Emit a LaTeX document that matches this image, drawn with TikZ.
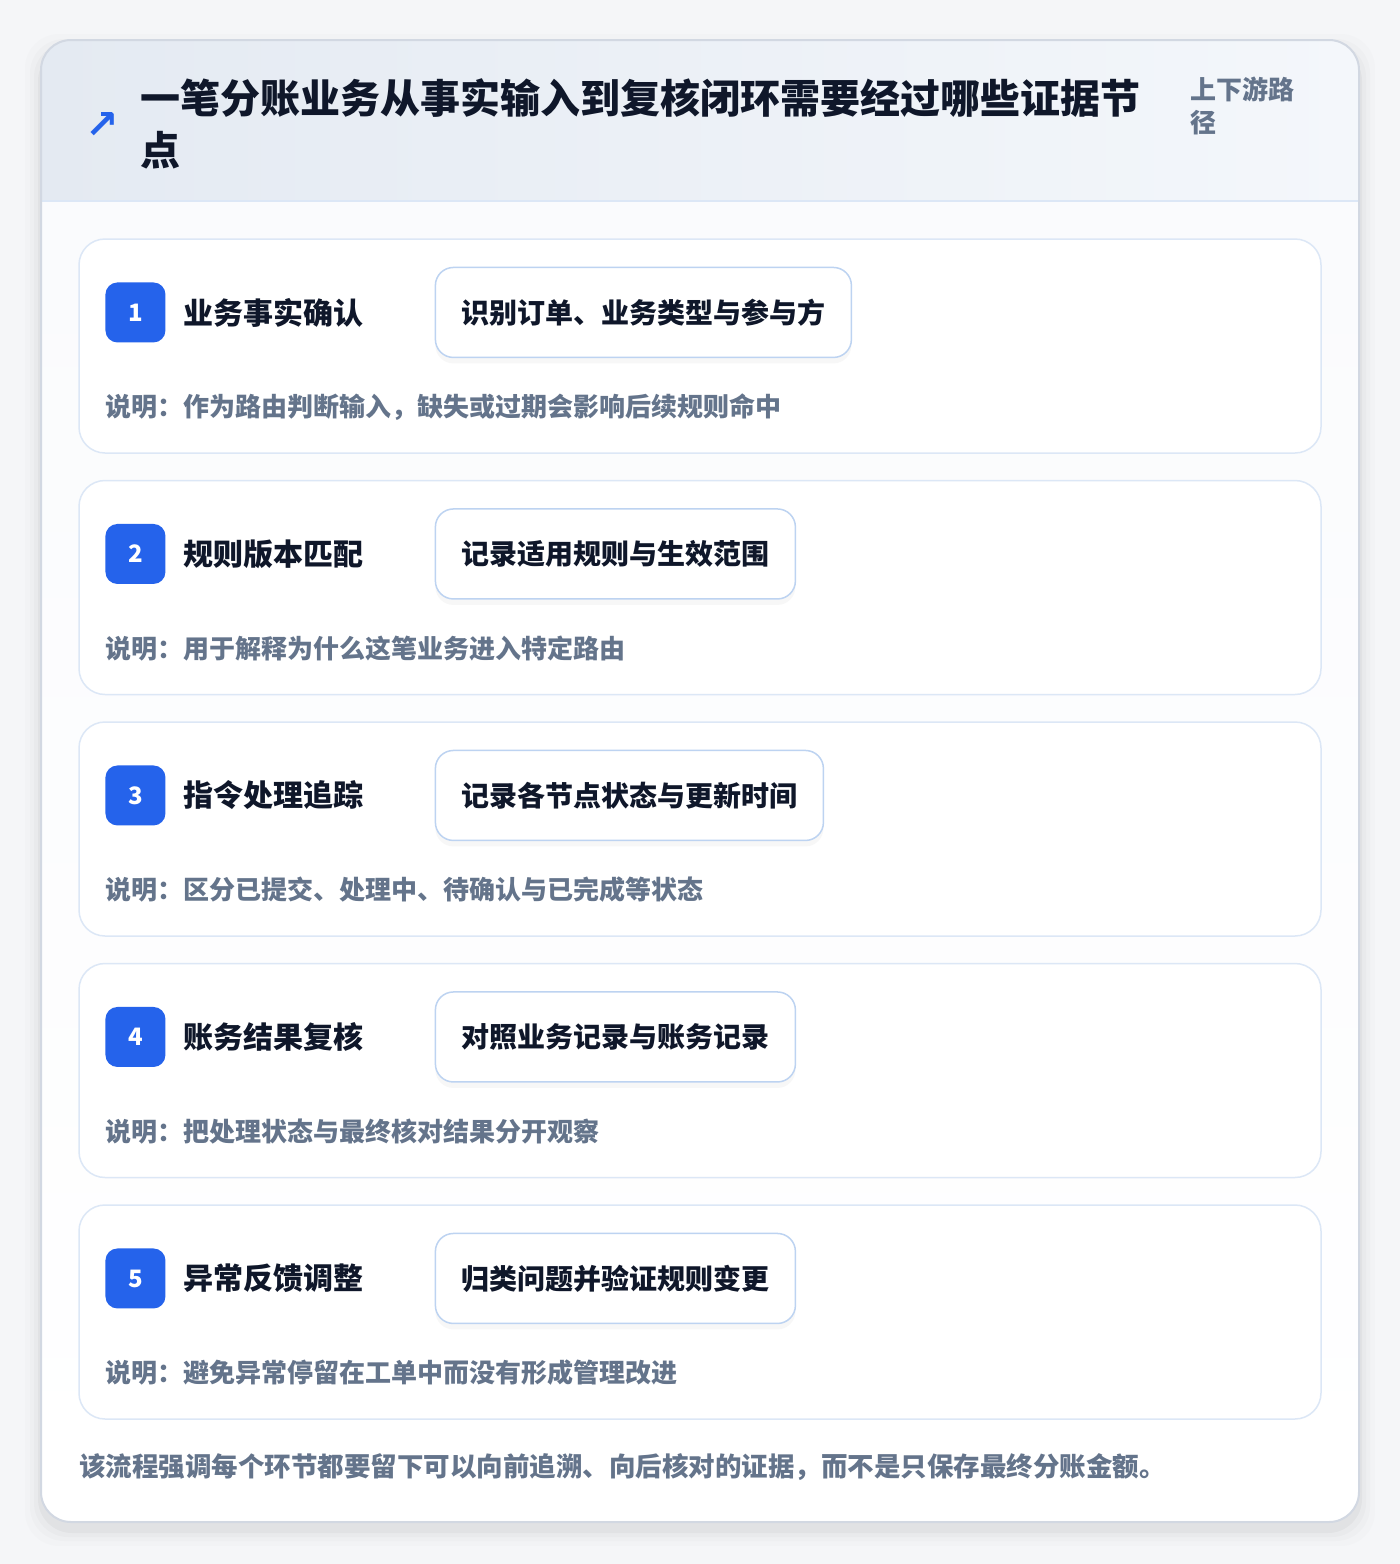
\documentclass[tikz,border=0pt]{standalone}
\usepackage{fontspec}
\setmainfont{Noto Sans CJK SC}
\newfontfamily\symfont{DejaVu Sans}
\usetikzlibrary{positioning,shadows}

\definecolor{pagebg}{HTML}{F5F6F8}
\definecolor{bodybg}{HTML}{FAFBFD}
\definecolor{headl}{HTML}{E4EAF2}
\definecolor{headr}{HTML}{F4F7FB}
\definecolor{headline}{HTML}{DCE7F6}
\definecolor{panelline}{HTML}{D2D8E2}
\definecolor{cardline}{HTML}{DCE7F6}
\definecolor{boxline}{HTML}{BDD3F1}
\definecolor{accent}{HTML}{2563EB}
\definecolor{ink}{HTML}{0F172A}
\definecolor{muted}{HTML}{64748B}

\begin{document}
\begin{tikzpicture}[x=1pt,y=-1pt]
    \tikzset{
      cardbox/.style={rectangle,draw=cardline,line width=1.5pt,fill=white,rounded corners=26pt,minimum width=1242pt,minimum height=214pt,inner sep=0pt},
      numbadge/.style={rectangle,fill=accent,rounded corners=12pt,minimum size=60pt,inner sep=0pt,text=white,font=\fontsize{24}{24}\selectfont\bfseries},
      steptitle/.style={inner sep=0pt,text=ink,font=\fontsize{30}{30}\selectfont\bfseries},
      evidbox/.style={rectangle,draw=boxline,line width=1.5pt,fill=white,rounded corners=18pt,minimum height=90pt,inner xsep=26pt,inner ysep=0pt,text=ink,font=\fontsize{28}{28}\selectfont\bfseries,drop shadow={opacity=0.06,shadow xshift=0pt,shadow yshift=-6pt}},
      notetext/.style={inner sep=0pt,text=muted,font=\fontsize{26}{26}\selectfont\bfseries},
      titletext/.style={anchor=west,inner sep=0pt,align=left,text=ink,font=\fontsize{40}{52}\selectfont\bfseries},
      tagtext/.style={anchor=west,inner sep=0pt,align=left,text=muted,font=\fontsize{26}{33}\selectfont\bfseries}
    }
    \useasboundingbox (0,0) rectangle (1400,1564);
    \fill[pagebg] (0,0) rectangle (1400,1564);
    % soft shadow round the panel
    \foreach \s/\o in {16/0.01,11/0.015,7/0.02,3/0.03}
      \fill[black,opacity=\o,rounded corners=34pt] (41-\s,50-\s) rectangle (1359+\s,1530+\s);
    \begin{scope}
      \clip[rounded corners=30pt] (41,40) rectangle (1359,1522);
      \fill[white] (41,40) rectangle (1359,1522);
      \shade[top color=bodybg,bottom color=white] (41,201) rectangle (1359,1522);
      \shade[left color=headl,right color=headr] (41,40) rectangle (1359,201);
      \draw[headline,line width=1.5pt] (41,201) -- (1359,201);
    \end{scope}
    \draw[panelline,line width=2pt,rounded corners=30pt] (41,40) rectangle (1359,1522);

    % header
    \node[text=accent,inner sep=0pt,font=\symfont\bfseries\fontsize{40}{40}\selectfont] (arrowicon) at (102,125) {↗};
    \node[titletext] (title) at (140,124) {一笔分账业务从事实输入到复核闭环需要经过哪些证据节\\点};
    \node[tagtext] (pathtag) at (1190,106) {上下游路\\径};

    % step cards
    \node[cardbox] (card1) at (700,346) {};
    \node[cardbox,below=26pt of card1] (card2) {};
    \node[cardbox,below=26pt of card2] (card3) {};
    \node[cardbox,below=26pt of card3] (card4) {};
    \node[cardbox,below=26pt of card4] (card5) {};

    \node[numbadge,below right=44pt and 27pt of card1.north west] (badge1) {1};
    \node[steptitle,right=18pt of badge1] (fact) {业务事实确认};
    \node[evidbox,right=269pt of badge1] (evid1) {识别订单、业务类型与参与方};
    \node[notetext,below=64pt of badge1.south west,anchor=west] (note1) {说明：作为路由判断输入，缺失或过期会影响后续规则命中};

    \node[numbadge,below right=44pt and 27pt of card2.north west] (badge2) {2};
    \node[steptitle,right=18pt of badge2] (rule) {规则版本匹配};
    \node[evidbox,right=269pt of badge2] (evid2) {记录适用规则与生效范围};
    \node[notetext,below=64pt of badge2.south west,anchor=west] (note2) {说明：用于解释为什么这笔业务进入特定路由};

    \node[numbadge,below right=44pt and 27pt of card3.north west] (badge3) {3};
    \node[steptitle,right=18pt of badge3] (track) {指令处理追踪};
    \node[evidbox,right=269pt of badge3] (evid3) {记录各节点状态与更新时间};
    \node[notetext,below=64pt of badge3.south west,anchor=west] (note3) {说明：区分已提交、处理中、待确认与已完成等状态};

    \node[numbadge,below right=44pt and 27pt of card4.north west] (badge4) {4};
    \node[steptitle,right=18pt of badge4] (review) {账务结果复核};
    \node[evidbox,right=269pt of badge4] (evid4) {对照业务记录与账务记录};
    \node[notetext,below=64pt of badge4.south west,anchor=west] (note4) {说明：把处理状态与最终核对结果分开观察};

    \node[numbadge,below right=44pt and 27pt of card5.north west] (badge5) {5};
    \node[steptitle,right=18pt of badge5] (adjust) {异常反馈调整};
    \node[evidbox,right=269pt of badge5] (evid5) {归类问题并验证规则变更};
    \node[notetext,below=64pt of badge5.south west,anchor=west] (note5) {说明：避免异常停留在工单中而没有形成管理改进};

    % footer
    \node[notetext,anchor=west,font=\fontsize{26.5}{26.5}\selectfont\bfseries] (summary) at (79,1467) {该流程强调每个环节都要留下可以向前追溯、向后核对的证据，而不是只保存最终分账金额。};
\end{tikzpicture}
\end{document}
